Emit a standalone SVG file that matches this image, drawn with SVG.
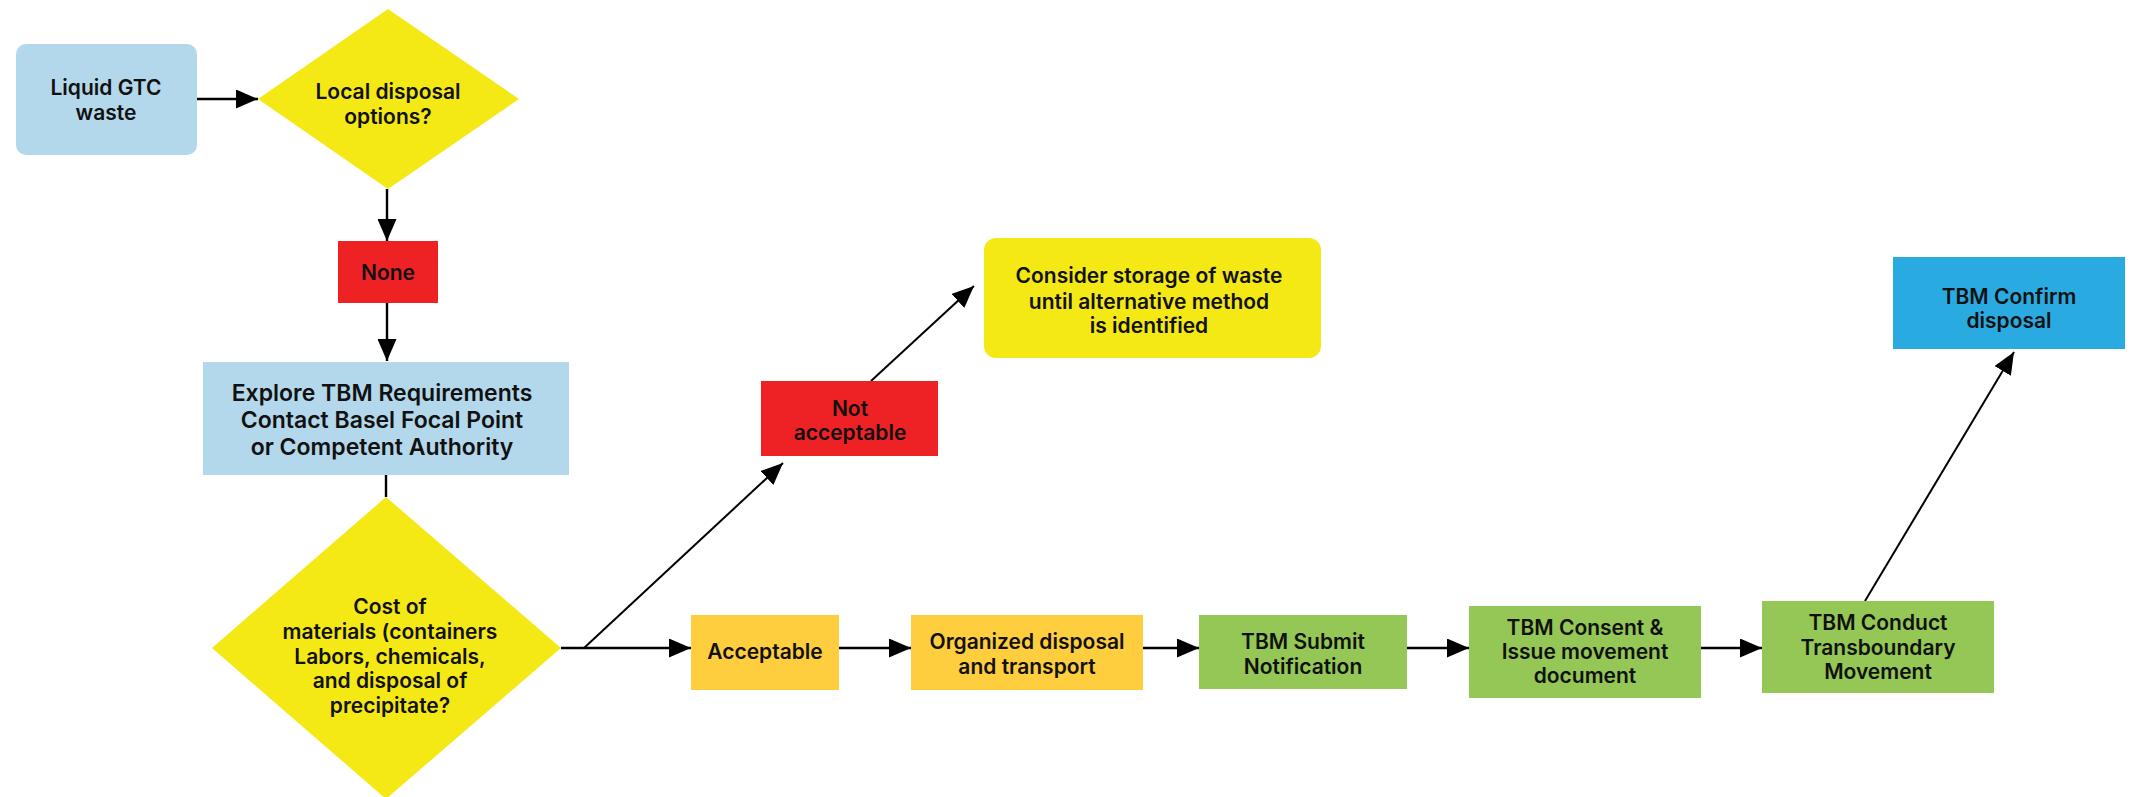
<svg xmlns="http://www.w3.org/2000/svg" width="2135" height="797" viewBox="0 0 2135 797">
  <defs>
    <marker id="arrow" viewBox="0 0 22 19" refX="22" refY="9.5" markerWidth="22" markerHeight="19" markerUnits="userSpaceOnUse" orient="auto">
      <path d="M0,0 L22,9.5 L0,19 Z" fill="#000"/>
    </marker>
    <style>
      .lbl { font-family: Inter, "Open Sans", "Liberation Sans", sans-serif; font-weight: 600; font-size: 21px; fill: #111; text-anchor: middle; dominant-baseline: central; }
      .big { font-size: 23px; }
      .pale { fill: #B4D8EB; }
      .yel { fill: #F4E915; }
      .red { fill: #EE2125; }
      .amber { fill: #FECE3F; }
      .green { fill: #94C755; }
      .blue { fill: #29ABE2; }
      .conn { stroke: #000; stroke-width: 2.4; fill: none; }
      .diag { stroke-width: 2; }
    </style>
  </defs>

  <!-- connectors -->
  <g id="connectors">
    <line class="conn" x1="197" y1="99" x2="258" y2="99" marker-end="url(#arrow)"/>
    <line class="conn" x1="387" y1="189" x2="387" y2="241" marker-end="url(#arrow)"/>
    <line class="conn" x1="387" y1="303" x2="387" y2="361" marker-end="url(#arrow)"/>
    <line class="conn" x1="386" y1="475" x2="386" y2="497"/>
    <line class="conn" x1="561" y1="648" x2="691" y2="648" marker-end="url(#arrow)"/>
    <line class="conn diag" x1="584" y1="648" x2="783" y2="463" marker-end="url(#arrow)"/>
    <line class="conn diag" x1="871" y1="381" x2="974" y2="286" marker-end="url(#arrow)"/>
    <line class="conn" x1="839" y1="648" x2="911" y2="648" marker-end="url(#arrow)"/>
    <line class="conn" x1="1143" y1="648" x2="1199" y2="648" marker-end="url(#arrow)"/>
    <line class="conn" x1="1407" y1="648" x2="1469" y2="648" marker-end="url(#arrow)"/>
    <line class="conn" x1="1701" y1="648" x2="1762" y2="648" marker-end="url(#arrow)"/>
    <line class="conn diag" x1="1865" y1="601" x2="2014" y2="352" marker-end="url(#arrow)"/>
  </g>

  <g id="liquid-waste">
    <rect class="pale" x="16" y="44" width="181" height="111" rx="10"/>
    <text class="lbl" x="106" y="87">Liquid GTC</text>
    <text class="lbl" x="106" y="112">waste</text>
  </g>

  <g id="local-options">
    <polygon class="yel" points="388,9 519,99 388,189 258,99"/>
    <text class="lbl" x="388" y="91">Local disposal</text>
    <text class="lbl" x="388" y="116">options?</text>
  </g>

  <g id="none">
    <rect class="red" x="338" y="241" width="100" height="62"/>
    <text class="lbl" x="388" y="272">None</text>
  </g>

  <g id="explore-tbm">
    <rect class="pale" x="203" y="362" width="366" height="113"/>
    <text class="lbl big" x="382" y="393">Explore TBM Requirements</text>
    <text class="lbl big" x="382" y="420">Contact Basel Focal Point</text>
    <text class="lbl big" x="382" y="447">or Competent Authority</text>
  </g>

  <g id="cost-question">
    <polygon class="yel" points="386,497 561,648 386,799 212,648"/>
    <text class="lbl" x="390" y="606">Cost of</text>
    <text class="lbl" x="390" y="631">materials (containers</text>
    <text class="lbl" x="390" y="656">Labors, chemicals,</text>
    <text class="lbl" x="390" y="680">and disposal of</text>
    <text class="lbl" x="390" y="705">precipitate?</text>
  </g>

  <g id="not-acceptable">
    <rect class="red" x="761" y="381" width="177" height="75"/>
    <text class="lbl" x="850" y="408">Not</text>
    <text class="lbl" x="850" y="432">acceptable</text>
  </g>

  <g id="consider-storage">
    <rect class="yel" x="984" y="238" width="337" height="120" rx="12"/>
    <text class="lbl" x="1149" y="275">Consider storage of waste</text>
    <text class="lbl" x="1149" y="301">until alternative method</text>
    <text class="lbl" x="1149" y="325">is identified</text>
  </g>

  <g id="acceptable">
    <rect class="amber" x="691" y="615" width="148" height="75"/>
    <text class="lbl" x="765" y="651">Acceptable</text>
  </g>

  <g id="organized-disposal">
    <rect class="amber" x="911" y="615" width="232" height="75"/>
    <text class="lbl" x="1027" y="641">Organized disposal</text>
    <text class="lbl" x="1027" y="666">and transport</text>
  </g>

  <g id="submit-notification">
    <rect class="green" x="1199" y="615" width="208" height="74"/>
    <text class="lbl" x="1303" y="641">TBM Submit</text>
    <text class="lbl" x="1303" y="666">Notification</text>
  </g>

  <g id="consent-issue">
    <rect class="green" x="1469" y="606" width="232" height="92"/>
    <text class="lbl" x="1585" y="627">TBM Consent &amp;</text>
    <text class="lbl" x="1585" y="651">Issue movement</text>
    <text class="lbl" x="1585" y="675">document</text>
  </g>

  <g id="conduct-movement">
    <rect class="green" x="1762" y="601" width="232" height="92"/>
    <text class="lbl" x="1878" y="622">TBM Conduct</text>
    <text class="lbl" x="1878" y="647">Transboundary</text>
    <text class="lbl" x="1878" y="671">Movement</text>
  </g>

  <g id="confirm-disposal">
    <rect class="blue" x="1893" y="257" width="232" height="92"/>
    <text class="lbl" x="2009" y="296">TBM Confirm</text>
    <text class="lbl" x="2009" y="320">disposal</text>
  </g>
</svg>
